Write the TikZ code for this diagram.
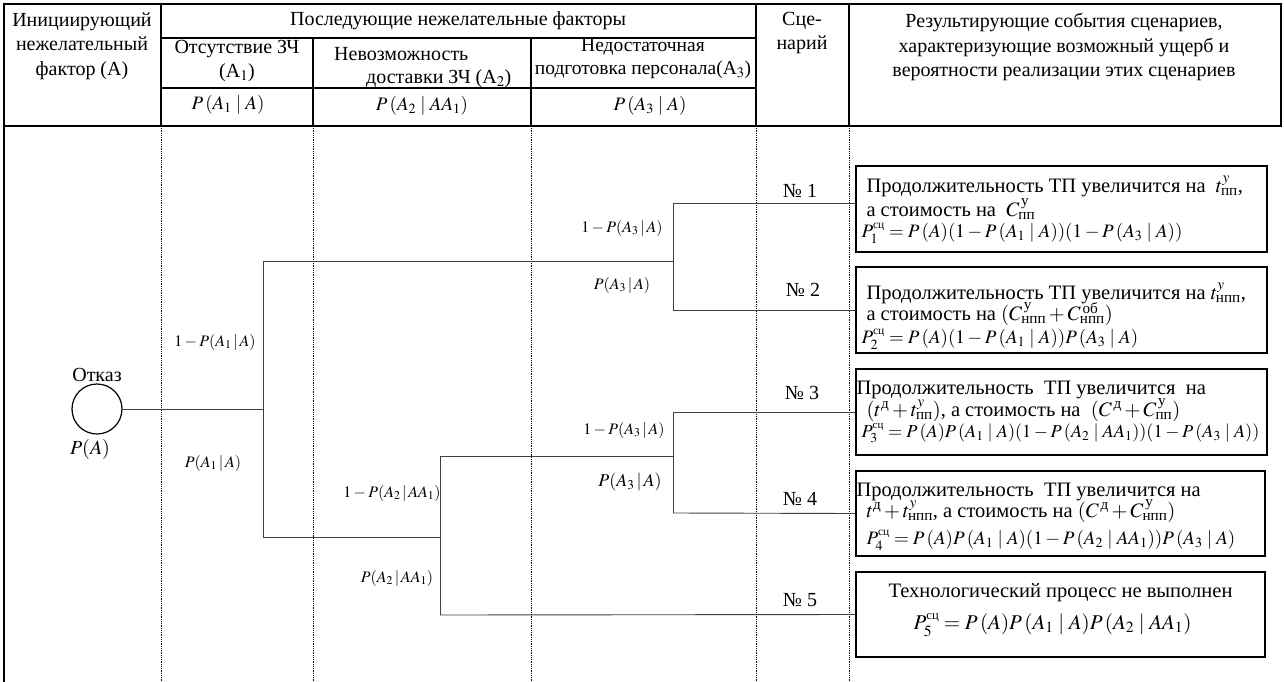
\documentclass[tikz,border=0pt]{standalone}
\usepackage{amsmath}
\usepackage{mathptmx}
\usepackage{fontspec}
\setmainfont{Liberation Serif}
\usetikzlibrary{calc}

\tikzset{
	hdr/.style={font=\fontsize{20}{24.5}\selectfont, align=center, inner sep=0pt},
	brd/.style={line width=1.6pt},
	grid/.style={line width=0.8pt, dash pattern=on 0.9pt off 0.9pt},
	branch/.style={line width=0.9pt, draw=black!75},
	prob/.style={font=\fontsize{16}{19}\selectfont, inner sep=0pt},
	scen/.style={draw, line width=1.4pt, minimum width=411pt, minimum height=86pt, inner sep=0pt},
	ln/.style={anchor=base west, inner sep=0pt, font=\fontsize{20.5}{23}\selectfont},
	fl/.style={ln, font=\fontsize{19}{22}\selectfont},
	num/.style={font=\fontsize{20}{23}\selectfont, inner sep=0pt}
}
\newcommand{\pt}[2]{P(#1\,|\,#2)} % conditional probability, tight
\newcommand{\pc}[2]{P\,(#1\;|\;#2)} % conditional probability, wide
\newcommand{\pa}{P\,(A)}
\newcommand{\supx}[1]{^{\raisebox{-2.5pt}{$\scriptstyle #1$}}} % low superscript
\newcommand{\scn}{^{\raisebox{-1pt}{$\scriptscriptstyle\text{сц}$}}} % scenario index

\begin{document}
\begin{tikzpicture}[x=1pt,y=-1pt]
	\useasboundingbox (0,0) rectangle (1284,682);
	% header grid
	\draw[brd] (4,4) rectangle (1281,126);
	\draw[brd] (161,4) -- (161,126);
	\draw[brd] (756,4) -- (756,126);
	\draw[brd] (849,4) -- (849,126);
	\draw[brd] (161,38) -- (756,38);
	\draw[brd] (161,88) -- (756,88);
	\draw[brd] (313,38) -- (313,126);
	\draw[brd] (531,38) -- (531,126);
	% body: left border and dotted column lines
	\draw[brd] (4,126) -- (4,682);
	\foreach \x in {161,313,531,756,849}
		\draw[grid] (\x,126) -- (\x,682);
	
	% header texts
	\node[hdr] (hinit) at (82,46) {Инициирующий\\нежелательный\\фактор (А)};
	\node[hdr] (hnext) at (458,21) {Последующие нежелательные факторы};
	\node[hdr] (hzch) at (237,61) {Отсутствие ЗЧ\\(A$_1$)};
	\node[hdr, anchor=west] (hdel) at (334,54) {Невозможность};
	\node[hdr, anchor=west] (hdelb) at (366,79) {доставки ЗЧ (A$_2$)};
	\node[hdr, font=\fontsize{19.5}{23}\selectfont] (hpers) at (643,59) {Недостаточная\\подготовка персонала(A$_3$)};
	\node[prob, font=\fontsize{19}{22}\selectfont] (pa1) at (228,105) {$\pc{A_1}{A}$};
	\node[prob, font=\fontsize{19}{22}\selectfont] (pa2) at (422,106) {$\pc{A_2}{AA_1}$};
	\node[prob, font=\fontsize{19}{22}\selectfont] (pa3) at (650,106) {$\pc{A_3}{A}$};
	\node[hdr] (hscen) at (802,33) {Сце-\\нарий};
	\node[hdr] (hres) at (1064,47) {Результирующие события сценариев,\\характеризующие возможный ущерб и\\вероятности реализации этих сценариев};
	
	% initiating event
	\node[draw, circle, minimum size=50pt, inner sep=0pt, line width=1.2pt] (fail) at (97,409) {};
	\node[num] (failt) at (97,375) {Отказ};
	\node[font=\fontsize{20}{24}\selectfont, inner sep=0pt] (failp) at (90,449) {$P(A)$};
	
	% branch points
	\coordinate (j1) at (263,409);
	\coordinate (j1u) at (263,261);
	\coordinate (j1d) at (263,537);
	\coordinate (k1) at (673,261);
	\coordinate (k1u) at (673,203);
	\coordinate (k1d) at (673,310);
	\coordinate (j2) at (440,537);
	\coordinate (j2u) at (440,456);
	\coordinate (j2d) at (440,615);
	\coordinate (k2) at (673,456);
	\coordinate (k2u) at (673,412);
	\coordinate (k2d) at (673,513);
	
	% resulting scenarios: frames
	\node[scen] (s1) at (1061.5,209) {};
	\node[scen] (s2) at (1061.5,310) {};
	\node[scen] (s3) at (1061.5,412) {};
	\node[scen, minimum width=409pt, minimum height=85pt] (s4) at (1060.5,513.5) {};
	\node[scen, minimum width=409pt, minimum height=85pt] (s5) at (1060.5,614.5) {};
	% resulting scenarios: texts
	\node[ln] (s1a) at ($(s1.north west)+(11,27)$) {Продолжительность ТП увеличится на\ \ $t\supx{y}_{\text{пп}}$,};
	\node[ln] (s1b) at ($(s1.north west)+(11,51)$) {а стоимость на\ \ $C\supx{\,\text{у}}_{\text{пп}}$};
	\node[fl] (s1c) at ($(s1.north west)+(6,72)$) {$P_1\scn = \pa(1-\pc{A_1}{A})(1-\pc{A_3}{A})$};
	
	\node[ln] (s2a) at ($(s2.north west)+(11,33)$) {Продолжительность ТП увеличится на $t\supx{y}_{\text{нпп}}$,};
	\node[ln] (s2b) at ($(s2.north west)+(11,54)$) {а стоимость на $(C\supx{\,\text{у}}_{\text{нпп}} + C\supx{\,\text{об}}_{\text{нпп}})$};
	\node[fl] (s2c) at ($(s2.north west)+(6,77)$) {$P_2\scn = \pa(1-\pc{A_1}{A})\pc{A_3}{A}$};
	
	\node[ln] (s3a) at ($(s3.north west)+(1,26)$) {Продолжительность\ \ ТП увеличится\ \ на};
	\node[ln] (s3b) at ($(s3.north west)+(11,48)$) {$(t^{\text{д}} + t\supx{y}_{\text{пп}})$, а стоимость на\ \ $(C^{\,\text{д}} + C\supx{\,\text{у}}_{\text{пп}})$};
	\node[fl, font=\fontsize{18.3}{21}\selectfont] (s3c) at ($(s3.north west)+(6,69)$) {$P_3\scn = \pa\pc{A_1}{A}(1-\pc{A_2}{AA_1})(1-\pc{A_3}{A})$};
	
	\node[ln] (s4a) at ($(s4.north west)+(1,26)$) {Продолжительность\ \ ТП увеличится на};
	\node[ln] (s4b) at ($(s4.north west)+(11,47)$) {$t^{\text{д}} + t\supx{y}_{\text{нпп}}$, а стоимость на $(C^{\,\text{д}} + C\supx{\,\text{у}}_{\text{нпп}})$};
	\node[fl] (s4c) at ($(s4.north west)+(11,74)$) {$P_4\scn = \pa\pc{A_1}{A}(1-\pc{A_2}{AA_1})\pc{A_3}{A}$};
	
	\node[ln, anchor=base] (s5a) at ($(s5.north)+(0,26)$) {Технологический процесс не выполнен};
	\node[ln, anchor=base, font=\fontsize{21}{24}\selectfont] (s5b) at ($(s5.north)+(-8,58)$) {$P_5\scn = \pa\pc{A_1}{A}\pc{A_2}{AA_1}$};
	
	% scenario numbers
	\node[num] (n1) at (800,191) {№ 1};
	\node[num] (n2) at (803,290) {№ 2};
	\node[num] (n3) at (802,393) {№ 3};
	\node[num] (n4) at (800,499) {№ 4};
	\node[num] (n5) at (800,600) {№ 5};
	
	% event tree
	\draw[branch] (fail.east) -- (j1);
	\draw[branch] (j1u) -- (j1d);
	\draw[branch] (j1u) -- (k1);
	\draw[branch] (k1u) -- (k1d);
	\draw[branch] (k1u) -- (k1u -| s1.west);
	\draw[branch] (k1d) -- (s2.west);
	\draw[branch] (j1d) -- (j2);
	\draw[branch] (j2u) -- (j2d);
	\draw[branch] (j2u) -- (k2);
	\draw[branch] (k2u) -- (k2d);
	\draw[branch] (k2u) -- (s3.west);
	\draw[branch] (k2d) -- (s4.west);
	\draw[branch] (j2d) -- (s5.west);
	
	% branch probabilities
	\node[prob] (q1) at (215,342) {$1-\pt{A_1}{A}$};
	\node[prob] (p1) at (213,463) {$\pt{A_1}{A}$};
	\node[prob] (q3a) at (622,228) {$1-\pt{A_3}{A}$};
	\node[prob] (p3a) at (622,285) {$\pt{A_3}{A}$};
	\node[prob] (q2) at (392,493) {$1-\pt{A_2}{AA_1}$};
	\node[prob] (p2) at (397,578) {$\pt{A_2}{AA_1}$};
	\node[prob] (q3b) at (624,430) {$1-\pt{A_3}{A}$};
	\node[prob, font=\fontsize{18}{21}\selectfont] (p3b) at (630,482) {$\pt{A_3}{A}$};
\end{tikzpicture}
\end{document}
